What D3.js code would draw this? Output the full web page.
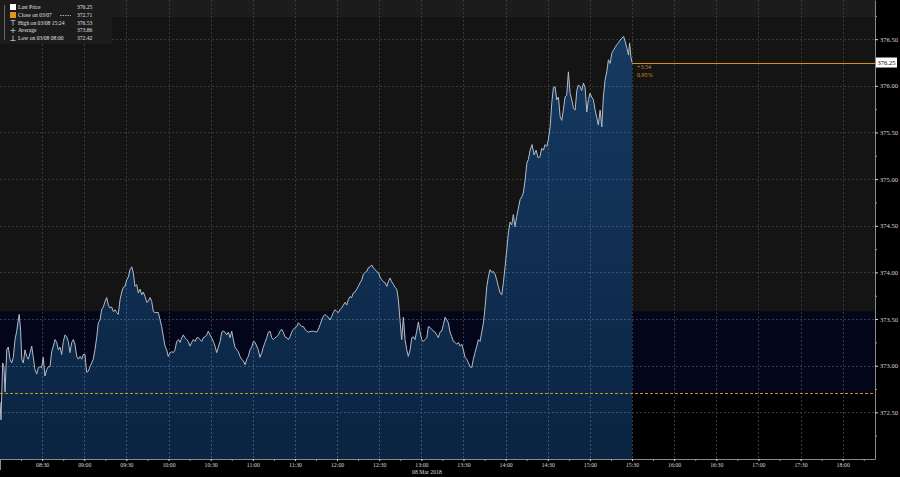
<!DOCTYPE html>
<html><head><meta charset="utf-8">
<script src="https://cdn.jsdelivr.net/npm/d3@7"></script>
<style>body{margin:0;background:#000;overflow:hidden} svg{display:block}</style>
</head><body><svg id="c" width="900" height="477"></svg>
<script>
// minutes after 08:00 on 08 Mar 2018
const minutes = [0,0.7,1.9,2.8,3.6,4.8,5.9,7.1,8.3,9.5,10.7,11.9,13.0,13.7,14.7,15.5,16.6,17.8,19.0,20.2,21.4,22.6,23.7,24.9,26.1,27.3,28.5,29.7,30.8,32.0,33.3,34.4,35.6,36.8,38.0,39.2,40.4,41.5,42.7,43.9,45.1,46.3,47.5,48.6,49.8,51.1,52.2,53.4,54.6,55.8,57.0,58.2,59.3,60.5,61.7,62.9,64.1,65.3,66.4,67.6,68.9,70.0,71.2,72.4,73.6,74.8,76.0,77.1,78.3,79.5,80.7,81.9,83.1,84.2,85.5,86.7,87.8,89.0,90.2,91.4,92.6,93.8,94.9,96.1,97.3,98.5,99.7,100.9,102.0,103.3,104.5,105.6,106.8,108.0,109.2,110.4,112.7,115.1,116.3,117.5,118.7,119.8,121.1,122.3,123.4,124.6,125.8,127.0,128.2,129.4,130.5,131.7,132.9,134.1,135.3,136.5,137.6,138.9,140.1,141.2,142.4,143.6,144.8,146.0,147.2,148.3,149.5,150.7,151.9,153.1,154.3,155.5,156.7,157.9,159.0,160.2,161.4,162.6,163.8,165.0,166.1,167.3,168.6,169.7,170.9,172.1,173.3,174.5,175.7,176.8,178.0,179.2,180.4,181.6,182.8,183.9,185.1,186.4,187.5,188.7,189.9,191.1,192.3,193.5,194.6,195.8,197.0,198.2,199.4,200.6,201.7,202.9,204.2,205.3,206.5,207.7,208.9,210.1,211.3,212.4,213.6,214.8,216.0,217.2,218.4,219.5,222.0,223.1,225.5,226.7,227.9,229.1,230.2,231.4,232.6,233.8,235.0,236.2,237.3,238.6,239.8,240.9,242.1,243.3,244.5,245.7,246.9,248.0,249.2,250.4,251.6,252.8,254.0,255.1,256.4,257.6,258.7,259.9,261.1,262.3,263.5,264.7,265.8,267.0,268.2,269.4,270.6,271.8,272.9,274.2,275.4,276.5,277.7,278.9,280.1,281.3,282.5,283.6,284.8,286.0,287.2,288.4,289.6,290.7,292.0,293.2,294.3,295.5,296.7,297.9,299.1,300.3,301.4,302.6,303.9,305.0,306.2,307.4,308.6,309.8,311.0,312.1,313.3,314.5,315.7,316.9,318.1,319.2,320.4,321.7,322.8,324.0,325.2,326.4,327.6,328.8,329.9,331.1,332.3,333.5,334.7,335.9,337.0,338.2,339.5,340.6,341.8,343.0,344.2,345.4,346.6,347.7,348.9,350.1,351.3,352.5,353.7,354.8,356.1,357.3,358.4,359.6,360.8,362.0,363.2,364.4,365.5,366.7,367.9,369.1,370.3,371.5,372.6,373.9,375.1,376.2,377.4,378.8,380.3,381.7,383.1,384.5,385.7,386.9,388.1,389.3,390.4,391.7,392.9,394.0,395.2,396.4,397.6,398.8,400.0,401.1,402.3,403.5,404.7,405.9,407.1,408.3,409.5,410.7,411.8,413.0,414.2,415.4,416.6,417.8,418.9,420.1,421.3,422.5,423.7,424.9,426.0,427.3,428.5,429.6,430.8,432.0,433.2,434.4,435.6,436.7,437.9,439.1,440.3,441.5,442.7,444.0,445.2,446.4,447.5,448.3,449.2,450.0];
const prices = [372.61,372.42,373.03,372.99,372.72,373.17,373.20,373.07,373.03,373.09,373.28,373.37,373.49,373.55,373.37,373.07,373.03,373.17,373.10,373.07,373.14,373.21,373.09,372.96,372.91,372.98,372.99,372.98,373.09,372.89,372.96,372.99,372.99,373.15,373.21,373.28,373.25,373.17,373.20,373.12,373.26,373.33,373.31,373.26,373.14,373.25,373.28,373.23,373.10,373.07,373.10,373.07,373.12,373.12,372.93,372.94,372.99,373.03,373.07,373.17,373.31,373.46,373.49,373.60,373.63,373.69,373.73,373.65,373.62,373.63,373.58,373.60,373.57,373.55,373.71,373.79,373.84,373.85,373.92,373.95,374.03,374.06,374.00,373.85,373.87,373.78,373.82,373.76,373.79,373.74,373.68,373.69,373.73,373.69,373.58,373.57,373.57,373.42,373.31,373.21,373.17,373.10,373.14,373.15,373.14,373.17,373.26,373.28,373.25,373.30,373.33,373.30,373.28,373.26,373.21,373.25,373.28,373.26,373.30,373.30,373.28,373.26,373.30,373.31,373.33,373.37,373.33,373.30,373.26,373.21,373.14,373.20,373.26,373.36,373.37,373.36,373.33,373.36,373.30,373.37,373.28,373.20,373.17,373.15,373.10,373.07,373.05,373.01,373.07,373.10,373.17,373.20,373.26,373.25,373.21,373.17,373.09,373.14,373.20,373.25,373.30,373.36,373.37,373.30,373.28,373.30,373.31,373.33,373.37,373.39,373.36,373.31,373.30,373.28,373.31,373.36,373.39,373.41,373.42,373.46,373.44,373.42,373.42,373.39,373.37,373.36,373.37,373.37,373.36,373.39,373.44,373.49,373.53,373.55,373.53,373.52,373.49,373.53,373.57,373.60,373.58,373.57,373.60,373.62,373.65,373.68,373.65,373.71,373.74,373.73,373.78,373.79,373.82,373.85,373.89,373.92,373.98,374.00,374.01,374.05,374.06,374.08,374.05,374.03,374.01,374.00,373.95,373.92,373.90,373.89,373.85,373.90,373.94,373.90,373.87,373.84,373.82,373.71,373.49,373.28,373.52,373.28,373.17,373.10,373.17,373.30,373.31,373.28,373.37,373.47,373.36,373.28,373.26,373.28,373.30,373.42,373.41,373.39,373.37,373.36,373.33,373.30,373.36,373.37,373.44,373.52,373.49,373.46,373.36,373.31,373.26,373.25,373.23,373.25,373.21,373.23,373.17,373.09,373.07,373.03,372.99,372.98,373.07,373.14,373.21,373.28,373.26,373.36,373.46,373.63,373.85,373.95,374.03,374.00,374.01,373.98,373.92,373.85,373.78,373.76,373.89,374.06,374.24,374.43,374.54,374.51,374.62,374.49,374.60,374.69,374.78,374.81,374.85,374.99,375.17,375.21,375.31,375.37,375.26,375.31,375.23,375.24,375.33,375.31,375.37,375.35,375.42,375.56,375.82,375.98,375.99,375.85,375.88,375.67,375.63,375.74,375.88,375.90,376.15,375.92,375.85,375.76,375.74,375.95,376.01,375.99,375.95,376.03,375.98,375.72,375.85,375.92,375.88,375.85,375.74,375.66,375.58,375.74,375.56,375.88,376.06,376.15,376.28,376.24,376.35,376.38,376.41,376.44,376.46,376.49,376.51,376.53,376.47,376.40,376.33,376.46,376.31,376.25];

const yTicks = [372.5,373.0,373.5,374.0,374.5,375.0,375.5,376.0,376.5];
const yMinor = [372.25,372.75,373.25,373.75,374.25,374.75,375.25,375.75,376.25,376.75];
const xTickLabels = ["08:30","09:00","09:30","10:00","10:30","11:00","11:30","12:00","12:30","13:00","13:30","14:00","14:30","15:00","15:30","16:00","16:30","17:00","17:30","18:00"];
const dateLabel = "08 Mar 2018";
const lastPrice = 376.25, prevClose = 372.71, highVal = 376.53, avgVal = 373.86, lowVal = 372.42;
const rangeTop = 373.58;
const changeLabels = ["+3.54","0.95%"];
const legendLabels = ["Last Price","Close on 03/07","High on 03/08 15:24","Average","Low on 03/08 08:00"];
const legendValues = ["376.25","372.71","376.53","373.86","372.42"];

const ORANGE = '#d8901a';
const svg = d3.select('#c');
const base = new Date(2018,2,8,8,0);
const tm = m => new Date(base.getTime() + m*60000);
const parseHM = d3.timeParse('%Y-%m-%d %H:%M');
const x = d3.scaleTime().domain([tm(0), tm(623)]).range([0,875]);
const y = d3.scaleLinear().domain([372.0, 376.92]).range([459,0]);
const data = minutes.map((m,i)=>({t:tm(m), v:prices[i]}));
const xTickDates = xTickLabels.map(s=>parseHM('2018-03-08 '+s));
const xMinor = xTickDates.map(d=>new Date(d.getTime()-15*60000)).concat([parseHM('2018-03-08 18:15')]);

svg.append('rect').attr('width',900).attr('height',477).attr('fill','#000');
// backgrounds
svg.append('rect').attr('x',0).attr('y',0).attr('width',875).attr('height',y(rangeTop)).attr('fill','#141414');
svg.append('rect').attr('x',0).attr('y',0).attr('width',875).attr('height',17).attr('fill','#1c1c1c');
svg.append('rect').attr('x',0).attr('y',y(rangeTop)).attr('width',875).attr('height',y(prevClose)-y(rangeTop)).attr('fill','#03051a');

// gradient
const defs = svg.append('defs');
const g = defs.append('linearGradient').attr('id','ag').attr('gradientUnits','userSpaceOnUse')
  .attr('x1',0).attr('x2',0).attr('y1',y(376.53)).attr('y2',459);
g.append('stop').attr('offset','0%').attr('stop-color','#163a62');
g.append('stop').attr('offset','100%').attr('stop-color','#0a2442');

// grid
const gridG = svg.append('g');
gridG.selectAll('line.v').data(xTickDates).join('line').attr('class','v')
  .attr('x1',d=>Math.round(x(d))+0.5).attr('x2',d=>Math.round(x(d))+0.5).attr('y1',0).attr('y2',459)
  .style('stroke','#3a3a3a').attr('stroke-dasharray','2,2');
gridG.selectAll('line.h').data(yTicks).join('line').attr('class','h')
  .attr('x1',0).attr('x2',875).attr('y1',d=>Math.round(y(d))+0.5).attr('y2',d=>Math.round(y(d))+0.5)
  .style('stroke','#3a3a3a').attr('stroke-dasharray','2,2');

// area + line
const area = d3.area().x(d=>x(d.t)).y0(459).y1(d=>y(d.v));
svg.append('path').datum(data).attr('d',area).attr('fill','url(#ag)');
const clip = defs.append('clipPath').attr('id','ac');
clip.append('path').datum(data).attr('d',area);
const g2 = svg.append('g').attr('clip-path','url(#ac)');
g2.selectAll('line.v').data(xTickDates).join('line').attr('class','v')
  .attr('x1',d=>Math.round(x(d))+0.5).attr('x2',d=>Math.round(x(d))+0.5).attr('y1',0).attr('y2',459)
  .style('stroke','#3a5576').attr('stroke-dasharray','2,2');
g2.selectAll('line.h').data(yTicks).join('line').attr('class','h')
  .attr('x1',0).attr('x2',875).attr('y1',d=>Math.round(y(d))+0.5).attr('y2',d=>Math.round(y(d))+0.5)
  .style('stroke','#3a5576').attr('stroke-dasharray','2,2');
const line = d3.line().x(d=>x(d.t)).y(d=>y(d.v));
svg.append('path').datum(data).attr('d',line).attr('fill','none').style('stroke','#b4bcc6').attr('stroke-width',1);

// close line (dashed, drawn as small rects)
const yClose = Math.round(y(prevClose));
svg.append('g').selectAll('rect').data(d3.range(0, 875, 5)).join('rect')
  .attr('x',d=>d).attr('y',yClose).attr('width',3).attr('height',1).attr('fill',ORANGE);
// last price line
const xEnd = x(tm(450));
svg.append('rect').attr('x',xEnd).attr('y',Math.round(y(lastPrice))).attr('width',875-xEnd).attr('height',1).attr('fill',ORANGE);
svg.append('g').selectAll('text').data(changeLabels).join('text')
  .attr('x',xEnd+5).attr('y',(d,i)=>y(lastPrice)+6+i*8).text(d=>d)
  .attr('fill',ORANGE).attr('font-family','Liberation Serif').attr('font-size','6px');

// right axis
const ra = svg.append('g').attr('transform','translate(875,0)')
  .call(d3.axisRight(y).tickValues(yTicks).tickSize(3).tickSizeOuter(0).tickPadding(2).tickFormat(d3.format('.2f')));
ra.select('.domain').attr('stroke','#8a8a8a');
ra.selectAll('.tick line').attr('stroke','#ddd');
ra.selectAll('text').attr('fill','#d8d8d8').attr('font-family','Liberation Serif').attr('font-size','6.5px');
const rm = svg.append('g').attr('transform','translate(875,0)')
  .call(d3.axisRight(y).tickValues(yMinor).tickSize(2).tickFormat(''));
rm.select('.domain').remove();
rm.selectAll('.tick line').attr('stroke','#999');

// last price tag
svg.append('rect').attr('x',876).attr('y',y(lastPrice)-5).attr('width',21).attr('height',10).attr('fill','#fff');
svg.append('text').attr('x',886.5).attr('y',y(lastPrice)+2.3).attr('text-anchor','middle').text(lastPrice.toFixed(2))
  .attr('fill','#000').attr('font-family','Liberation Serif').attr('font-size','6.5px');

// bottom axis
const ba = svg.append('g').attr('transform','translate(0,459)')
  .call(d3.axisBottom(x).tickValues(xTickDates).tickSize(2).tickSizeOuter(0).tickPadding(2).tickFormat((d,i)=>xTickLabels[i]));
ba.select('.domain').attr('stroke','#8a8a8a');
ba.selectAll('.tick line').attr('stroke','#ddd');
ba.selectAll('text').attr('fill','#d8d8d8').attr('font-family','Liberation Serif').attr('font-size','5.8px');
const bm = svg.append('g').attr('transform','translate(0,459)')
  .call(d3.axisBottom(x).tickValues(xMinor).tickSize(2).tickFormat(''));
bm.select('.domain').remove();
bm.selectAll('.tick line').attr('stroke','#999');
svg.append('line').attr('x1',0.5).attr('x2',0.5).attr('y1',459).attr('y2',470).attr('stroke','#8a8a8a');
svg.append('text').attr('x',412).attr('y',474).text(dateLabel)
  .attr('fill','#d8d8d8').attr('font-family','Liberation Serif').attr('font-size','5.8px');

// legend
const lg = svg.append('g');
lg.append('rect').attr('x',0).attr('y',0).attr('width',112).attr('height',44).attr('fill','#1b1b1b');
lg.append('line').attr('x1',4.5).attr('x2',4.5).attr('y1',5).attr('y2',40).attr('stroke','#666');
const rowY = [7.3,15,22.7,30,37.7];
lg.append('rect').attr('x',10).attr('y',4).attr('width',6).attr('height',6).attr('fill','#fff');
lg.append('rect').attr('x',10).attr('y',12).attr('width',6).attr('height',6).attr('fill','#e0961e');
lg.append('line').attr('x1',60).attr('x2',71).attr('y1',15.5).attr('y2',15.5).attr('stroke','#aaa').attr('stroke-dasharray','1.5,1');
lg.append('path').attr('d','M10.5,20.5h5M13,20.5v5').attr('stroke','#aaa').attr('fill','none');
lg.append('path').attr('d','M10.5,30.5h5M13,28v5').attr('stroke','#aaa').attr('fill','none');
lg.append('path').attr('d','M10.5,40.5h5M13,35.5v5').attr('stroke','#aaa').attr('fill','none');
lg.selectAll('text.l').data(legendLabels).join('text').attr('class','l')
  .attr('x',18).attr('y',(d,i)=>rowY[i]+2).text(d=>d)
  .attr('fill','#e0e0e0').attr('font-family','Liberation Serif').attr('font-size','5.6px');
lg.selectAll('text.v').data(legendValues).join('text').attr('class','v')
  .attr('x',77).attr('y',(d,i)=>rowY[i]+2).text(d=>d)
  .attr('fill','#e0e0e0').attr('font-family','Liberation Serif').attr('font-size','5.6px');
</script></body></html>
